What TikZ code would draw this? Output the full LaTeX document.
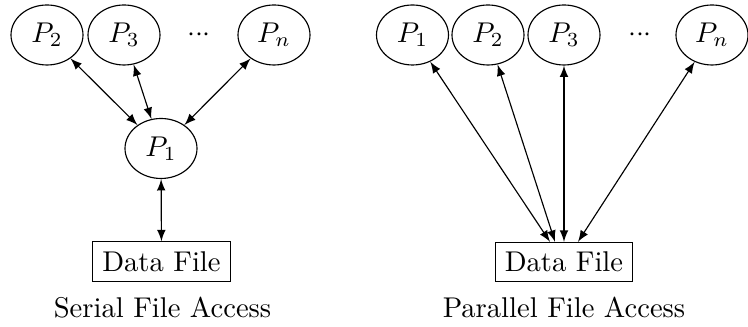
\documentclass[tikz,border=0pt]{standalone}
\usetikzlibrary{positioning}
\usetikzlibrary{shapes}

\begin{document}
\begin{tikzpicture}[x=0.35pt,y=-0.35pt,
  proc/.style={draw, ellipse, inner sep=0pt, minimum width=25.2pt, minimum height=21pt},
  datafile/.style={draw, rectangle},
  link/.style={latex-latex}]
\useasboundingbox (0,0) rectangle (748,327);

%serial
%processes
\node[proc] (sP2) at (47,35) {$P_2$};
\node[proc] (sP3) at (124,35) {$P_3$};
\node (sdots) at (199,35) {${\cdot}{\cdot}{\cdot}$};
\node[proc] (sPn) at (274,35) {$P_n$};
\node[proc] (sP1) at (161,148.5) {$P_1$};
%file
\node[datafile] (sfile) at (161.5,261.5) {Data File};
\node (slabel) at (162.5,307.5) {Serial File Access};
%links
\draw[link] (sP2) -- (sP1);
\draw[link] (sP3) -- (sP1);
\draw[link] (sPn) -- (sP1);
\draw[link] (sP1) -- (sfile);

%parallel
%processes
\node[proc] (pP1) at (412.5,35) {$P_1$};
\node[proc] (pP2) at (488,35) {$P_2$};
\node[proc] (pP3) at (564,35) {$P_3$};
\node (pdots) at (640,35) {${\cdot}{\cdot}{\cdot}$};
\node[proc] (pPn) at (712,35) {$P_n$};
%file
\node[datafile] (pfile) at (564,262) {Data File};
\node (plabel) at (564,307.5) {Parallel File Access};
%links
\draw[link] (pP1) -- ([xshift=-4.9pt]pfile.north);
\draw[link] (pP2) -- ([xshift=-3.15pt]pfile.north);
\draw[link] (pP3) -- (pfile.north);
\draw[link] (pPn) -- ([xshift=4.9pt]pfile.north);

\end{tikzpicture}
\end{document}
